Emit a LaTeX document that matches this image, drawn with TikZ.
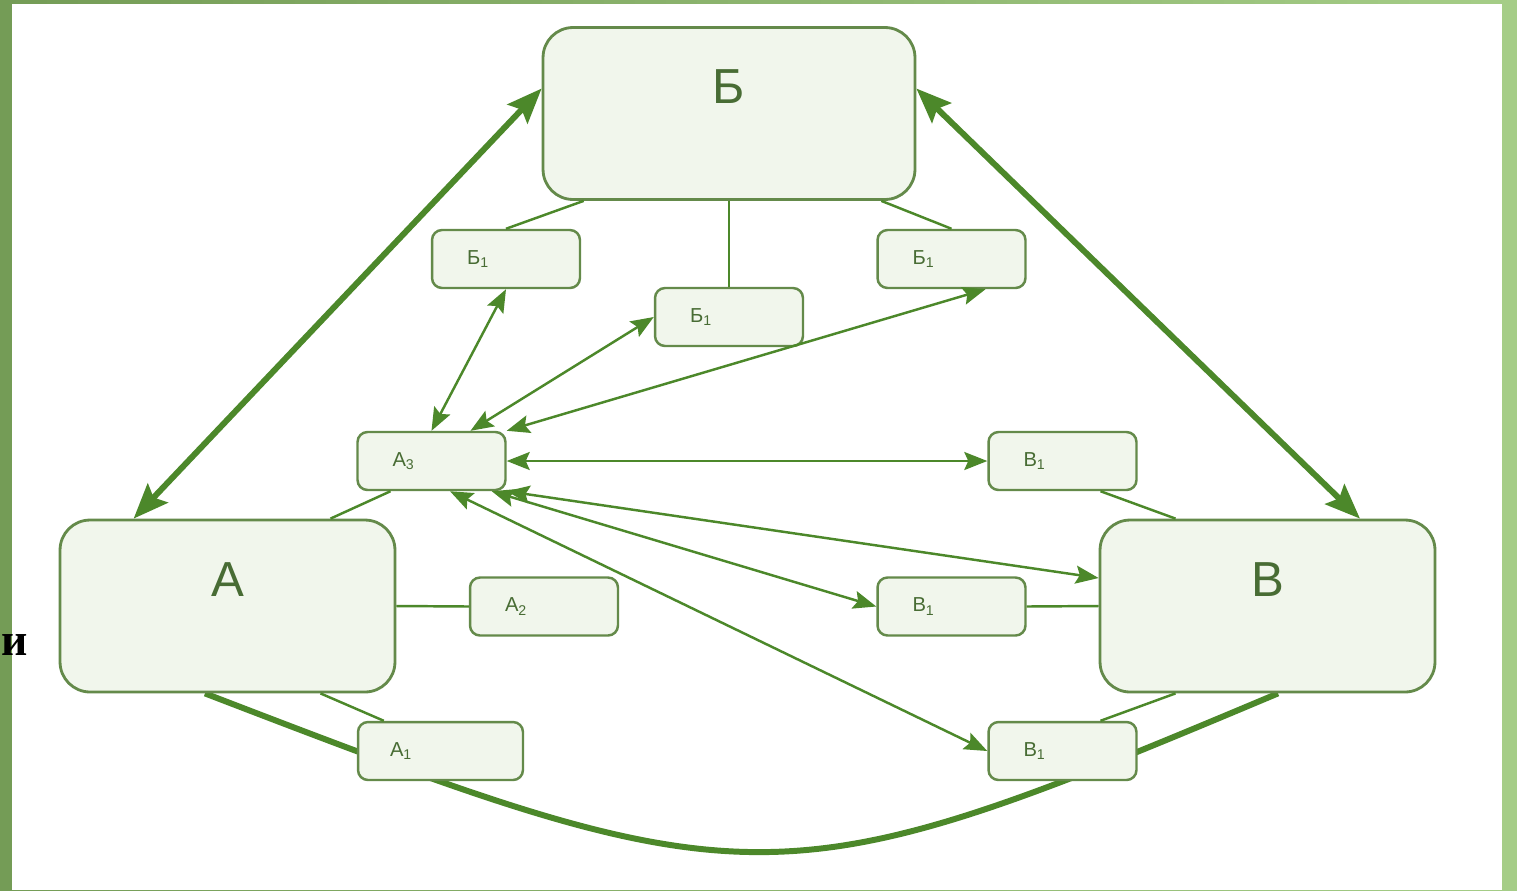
\documentclass[tikz,border=0pt]{standalone}
\usepackage{fontspec}
\setmainfont{Liberation Sans}
\newfontfamily\serifbold{Liberation Serif}
\usetikzlibrary{arrows.meta,backgrounds}

\definecolor{framel}{RGB}{116,156,86}
\definecolor{framer}{RGB}{165,205,135}
\definecolor{linkgreen}{RGB}{76,136,42}
\definecolor{boxline}{RGB}{100,138,74}
\definecolor{boxfill}{RGB}{241,246,236}
\definecolor{labelgreen}{RGB}{72,108,52}

\tikzset{
  bigbox/.style={draw=boxline, line width=1.6pt, fill=boxfill, rounded corners=0.6cm,
    inner ysep=0pt, text height=1.52cm, text depth=1.92cm, text=labelgreen,
    font=\fontsize{28}{30}\selectfont},
  smallbox/.style={draw=boxline, line width=1.4pt, fill=boxfill, rounded corners=0.2cm,
    minimum height=1.16cm, inner xsep=0pt, inner ysep=0pt, text width=#1, align=left,
    text=labelgreen, font=\fontsize{11.5}{13}\selectfont},
  smallbox/.default=2.96cm,
  link/.style={linkgreen, line width=1.4pt},
  dlink/.style={link, {Stealth[length=0.46cm,width=0.36cm,inset=0.08cm]}-{Stealth[length=0.46cm,width=0.36cm,inset=0.08cm]}},
  heavy/.style={linkgreen, line width=3.4pt, {Stealth[length=0.7cm,width=0.55cm,inset=0.12cm]}-{Stealth[length=0.7cm,width=0.55cm,inset=0.12cm]}}
}

\begin{document}
\begin{tikzpicture}[x=0.02cm,y=-0.02cm]
  \useasboundingbox (0,0) rectangle (1517,890);

  % big blocks
  \node[bigbox, minimum width=7.44cm] (b) at (729,113.5) {Б};
  \node[bigbox, minimum width=6.7cm] (a) at (227.5,606) {А};
  \node[bigbox, minimum width=6.7cm] (v) at (1267.5,606) {В};

  % small blocks
  \node[smallbox] (bl1) at (506,259) {\hspace*{0.7cm}Б\textsubscript{1}};
  \node[smallbox] (bm1) at (729,317) {\hspace*{0.7cm}Б\textsubscript{1}};
  \node[smallbox] (br1) at (951.5,259) {\hspace*{0.7cm}Б\textsubscript{1}};
  \node[smallbox] (a3) at (431.5,461) {\hspace*{0.7cm}А\textsubscript{3}};
  \node[smallbox] (vt1) at (1062.5,461) {\hspace*{0.7cm}В\textsubscript{1}};
  \node[smallbox] (a2) at (544,606.5) {\hspace*{0.7cm}А\textsubscript{2}};
  \node[smallbox] (vm1) at (951.5,606.5) {\hspace*{0.7cm}В\textsubscript{1}};
  \node[smallbox=3.3cm] (a1) at (440.5,751) {\hspace*{0.64cm}А\textsubscript{1}};
  \node[smallbox] (vb1) at (1062.5,751) {\hspace*{0.7cm}В\textsubscript{1}};

  \begin{scope}[on background layer]
    % frame
    \fill[left color=framel, right color=framer] (0,0) rectangle (1517,890);
    \fill[white] (12,4) rectangle (1502,890);
    % bottom arc
    \draw[linkgreen, line width=3.4pt] ([xshift=-0.45cm]a.south)
      .. controls (755,905) and (775,905) .. ([xshift=0.21cm]v.south);
  \end{scope}

  % plain links
  \draw[link] ([xshift=0.84cm]b.south west) -- (bl1.north);
  \draw[link] (b.south) -- (bm1.north);
  \draw[link] ([xshift=-0.7cm]b.south east) -- (br1.north);
  \draw[link] ([xshift=-0.82cm]a3.south) -- ([xshift=2.06cm]a.north);
  \draw[link] (a.east) -- (a2.west);
  \draw[link] ([xshift=1.86cm]a.south) -- ([xshift=0.54cm]a1.north west);
  \draw[link] ([xshift=0.76cm]vt1.south) -- ([xshift=-1.84cm]v.north);
  \draw[link] (vm1.east) -- (v.west);
  \draw[link] ([xshift=-1.84cm]v.south) -- ([xshift=0.76cm]vb1.north);

  % heavy arrows
  \draw[heavy] ([xshift=1.5cm]a.north west) -- ([yshift=0.5cm]b.west);
  \draw[heavy] ([yshift=0.5cm]b.east) -- ([xshift=1.85cm]v.north);

  % arrows from A3
  \draw[dlink] (a3.north) -- (bl1.south);
  \draw[dlink] ([xshift=0.78cm]a3.north) -- (bm1.west);
  \draw[dlink] (a3.north east) -- ([xshift=0.68cm]br1.south);
  \draw[dlink] (a3.east) -- (vt1.west);
  \draw[dlink] (a3.south east) -- ([yshift=0.56cm]v.west);
  \draw[dlink] ([xshift=-0.3cm]a3.south east) -- (vm1.west);
  \draw[dlink] ([xshift=0.37cm]a3.south) -- (vb1.west);

  % letter at the edge
  \node[anchor=base west, inner sep=0pt, font=\serifbold\bfseries\fontsize{26}{28}\selectfont] (stray) at (1,655) {и};
\end{tikzpicture}
\end{document}
